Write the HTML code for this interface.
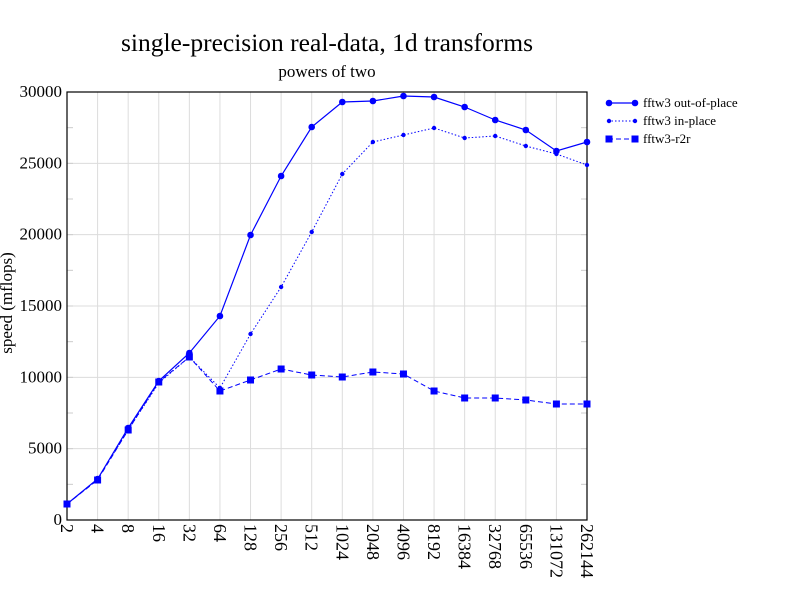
<!DOCTYPE html>
<html><head><style>body{margin:0;background:#fff}svg{display:block}</style></head><body>
<svg width="792" height="612" xmlns="http://www.w3.org/2000/svg" font-family="Liberation Serif, serif">
<rect width="792" height="612" fill="#fff"/>
<text x="327" y="51" font-size="25.5" text-anchor="middle">single-precision real-data, 1d transforms</text>
<text x="327" y="77" font-size="17" text-anchor="middle">powers of two</text>
<text transform="translate(12,303) rotate(-90)" font-size="17" text-anchor="middle">speed (mflops)</text>
<g id="grid" stroke="#dcdcdc" stroke-width="1"></g>
<g id="ax"></g>
<rect x="67" y="92" width="520" height="428" fill="none" stroke="#000" stroke-width="1.2"/>
<g id="series"></g>
<g font-size="13">
<line x1="608" y1="103" x2="636" y2="103" stroke="#00f" stroke-width="1.2"/>
<circle cx="609" cy="103" r="3.3" fill="#00f"/><circle cx="635" cy="103" r="3.3" fill="#00f"/>
<text x="643" y="107">fftw3 out-of-place</text>
<line x1="608" y1="121" x2="636" y2="121" stroke="#00f" stroke-width="1" stroke-dasharray="1.5,2"/>
<circle cx="609" cy="121" r="2.2" fill="#00f"/><circle cx="635" cy="121" r="2.2" fill="#00f"/>
<text x="643" y="125">fftw3 in-place</text>
<line x1="608" y1="139" x2="636" y2="139" stroke="#00f" stroke-width="1" stroke-dasharray="5,3"/>
<rect x="605.5" y="135.5" width="7" height="7" fill="#00f"/><rect x="631.5" y="135.5" width="7" height="7" fill="#00f"/>
<text x="643" y="143">fftw3-r2r</text>
</g>
<script>
var NS="http://www.w3.org/2000/svg";
function el(p,t,a,txt){var e=document.createElementNS(NS,t);for(var k in a)e.setAttribute(k,a[k]);if(txt)e.textContent=txt;p.appendChild(e);return e;}
var g=document.getElementById('grid'),ax=document.getElementById('ax'),s=document.getElementById('series');
var labs=["2","4","8","16","32","64","128","256","512","1024","2048","4096","8192","16384","32768","65536","131072","262144"];
function X(i){return 67+i*520/17;}
for(var i=0;i<18;i++){var x=X(i);
 if(i>0&&i<17)el(g,'line',{x1:x,y1:92,x2:x,y2:520});
 el(ax,'text',{transform:'translate('+(x-6)+',524) rotate(90)','font-size':18},labs[i]);}
for(var v=0;v<=30000;v+=2500){var y=520-v*428/30000;
 if(v%5000==0){if(v>0&&v<30000)el(g,'line',{x1:67,y1:y,x2:587,y2:y});
  el(ax,'text',{x:62,y:y+5,'font-size':17,'text-anchor':'end'},String(v));}
 el(ax,'line',{x1:67,y1:y,x2:73,y2:y,stroke:'#ccc'});el(ax,'line',{x1:581,y1:y,x2:587,y2:y,stroke:'#ccc'});}
var A=[504,479,428,381,353,316,235,176,127,102,101,96,97,107,120,130,151,142];
var B=[504,479,430,383,357,388,334,287,232,174,142,135,128,138,136,146,154,165];
var C=[504,480,430,382,357,391,380,369,375,377,372,374,391,398,398,400,404,404];
function pts(a){return a.map(function(y,i){return X(i)+','+y}).join(' ');}
el(s,'polyline',{points:pts(C),fill:'none',stroke:'#00f','stroke-width':1,'stroke-dasharray':'5,3'});
el(s,'polyline',{points:pts(B),fill:'none',stroke:'#00f','stroke-width':1,'stroke-dasharray':'1.5,2'});
el(s,'polyline',{points:pts(A),fill:'none',stroke:'#00f','stroke-width':1.2});
for(var i=0;i<18;i++){
 el(s,'rect',{x:X(i)-3.5,y:C[i]-3.5,width:7,height:7,fill:'#00f'});
 el(s,'circle',{cx:X(i),cy:B[i],r:2.2,fill:'#00f'});
 el(s,'circle',{cx:X(i),cy:A[i],r:3.3,fill:'#00f'});}
</script>
</svg>
</body></html>
